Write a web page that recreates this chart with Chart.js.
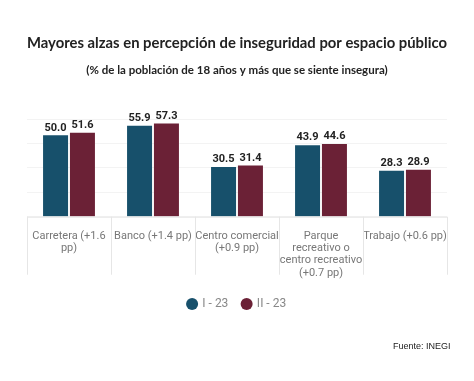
<!DOCTYPE html>
<html>
<head>
<meta charset="utf-8">
<script src="https://cdn.jsdelivr.net/npm/chart.js@4"></script>
<style>
  html, body { margin: 0; padding: 0; background: #fff; }
  #wrap { position: relative; width: 474px; height: 381px; }
  #fuente { position: absolute; left: 393px; top: 341px; font: 9px "Liberation Sans", Arial, sans-serif; color: #222; }
</style>
</head>
<body>
<div id="wrap">
  <canvas id="canvas" width="474" height="381"></canvas>
  <div id="fuente">Fuente: INEGI</div>
</div>
<script>
var categorias = [
    ["Carretera (+1.6", "pp)"],
    ["Banco (+1.4 pp)"],
    ["Centro comercial", "(+0.9 pp)"],
    ["Parque", "recreativo o", "centro recreativo", "(+0.7 pp)"],
    ["Trabajo (+0.6 pp)"]
];
var trim1 = [50.0, 55.9, 30.5, 43.9, 28.3];
var trim2 = [51.6, 57.3, 31.4, 44.6, 28.9];
var yTicks = [0, 15, 30, 45, 60];

// etiquetas encima de las barras
var etiquetas = {
    id: 'etiquetas',
    afterDatasetsDraw: function(chart) {
        var ctx = chart.ctx;
        ctx.save();
        ctx.font = 'bold 11px Roboto';
        ctx.fillStyle = '#222';
        ctx.textAlign = 'center';
        ctx.textBaseline = 'bottom';
        chart.data.datasets.forEach(function(ds, i) {
            chart.getDatasetMeta(i).data.forEach(function(bar, j) {
                ctx.fillText(ds.data[j].toFixed(1), bar.x, bar.y - 2);
            });
        });
        ctx.restore();
    }
};

// separadores bajo el eje x
var separadores = {
    id: 'separadores',
    afterDraw: function(chart) {
        var x = chart.scales.x;
        var ctx = chart.ctx;
        ctx.save();
        ctx.strokeStyle = '#e6e6e6';
        ctx.lineWidth = 1;
        ctx.beginPath();
        ctx.moveTo(x.left, x.top + 0.5);
        ctx.lineTo(x.right, x.top + 0.5);
        for (var i = 0; i <= categorias.length; i++) {
            var px = x.getPixelForValue(i - 0.5);
            px = Math.round(px) + 0.5;
            ctx.moveTo(px, x.top);
            ctx.lineTo(px, x.top + 58);
        }
        ctx.stroke();
        ctx.restore();
    }
};

var ctx = document.getElementById('canvas').getContext('2d');
var myChart = new Chart(ctx, {
    type: 'bar',
    data: {
        labels: categorias,
        datasets: [{
            label: 'I - 23',
            data: trim1,
            backgroundColor: '#17506b'
        }, {
            label: 'II - 23',
            data: trim2,
            backgroundColor: '#6b2136'
        }]
    },
    options: {
        responsive: false,
        animation: false,
        layout: { padding: { left: 27, right: 27, top: 0, bottom: 61 } },
        datasets: { bar: { categoryPercentage: 0.64, barPercentage: 0.93 } },
        scales: {
            x: {
                grid: { display: false },
                border: { display: false },
                ticks: {
                    color: '#777',
                    padding: 5,
                    maxRotation: 0,
                    autoSkip: false,
                    font: { family: 'Roboto', size: 11, lineHeight: 1.12 }
                }
            },
            y: {
                min: 0,
                max: 60,
                display: true,
                afterBuildTicks: function(axis) {
                    axis.ticks = yTicks.map(function(v) { return { value: v }; });
                },
                ticks: { display: false },
                border: { display: false },
                grid: { color: '#f3f3f3', drawTicks: false }
            }
        },
        plugins: {
            title: {
                display: true,
                text: 'Mayores alzas en percepción de inseguridad por espacio público',
                color: '#222',
                font: { family: 'Lato', size: 16, weight: 'bold' },
                padding: { top: 33, bottom: 5 }
            },
            subtitle: {
                display: true,
                text: '(% de la población de 18 años y más que se siente insegura)',
                color: '#222',
                font: { family: 'Lato', size: 11.5, weight: 'bold' },
                padding: { top: 6, bottom: 42 }
            },
            legend: {
                position: 'bottom',
                labels: {
                    usePointStyle: true,
                    pointStyle: 'circle',
                    boxWidth: 8.5,
                    boxHeight: 8.5,
                    padding: 14,
                    color: '#888',
                    font: { family: 'Roboto', size: 12 }
                }
            },
            tooltip: { enabled: false }
        }
    },
    plugins: [etiquetas, separadores]
});
</script>
</body>
</html>
